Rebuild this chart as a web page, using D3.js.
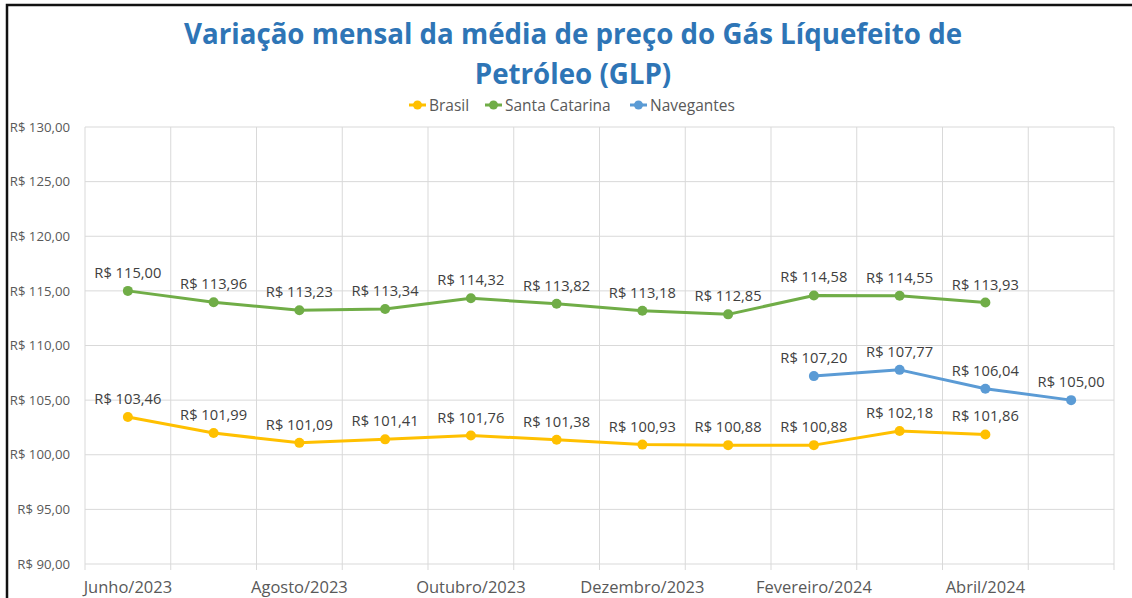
<!DOCTYPE html>
<html><head><meta charset="utf-8">
<script src="https://cdn.jsdelivr.net/npm/d3@7"></script>
<style>
html,body{margin:0;padding:0;background:#fff;overflow:hidden;}
svg{display:block;font-family:"Open Sans",sans-serif;}
</style></head>
<body>
<svg id="chart" width="1132" height="598"></svg>
<script>
const categories = ["Junho/2023","Julho/2023","Agosto/2023","Setembro/2023","Outubro/2023","Novembro/2023","Dezembro/2023","Janeiro/2024","Fevereiro/2024","Março/2024","Abril/2024","Maio/2024"];
const brasil = [103.46,101.99,101.09,101.41,101.76,101.38,100.93,100.88,100.88,102.18,101.86,null];
const santaCatarina = [115.00,113.96,113.23,113.34,114.32,113.82,113.18,112.85,114.58,114.55,113.93,null];
const navegantes = [null,null,null,null,null,null,null,null,107.20,107.77,106.04,105.00];
const seriesNames = ["Brasil","Santa Catarina","Navegantes"];
const seriesColors = ["#FFC000","#70AD47","#5B9BD5"];
const yTicks = [90,95,100,105,110,115,120,125,130];
const titleLines = ["Variação mensal da média de preço do Gás Líquefeito de","Petróleo (GLP)"];

const seriesData = [brasil, santaCatarina, navegantes];
const svg = d3.select("#chart");
const pLeft = 85, pRight = 1114, pTop = 127, pBottom = 564;

const x = d3.scaleBand().domain(categories).range([pLeft, pRight]).padding(0);
const y = d3.scaleLinear().domain([90,130]).range([pBottom, pTop]);
const fmt = v => "R$ " + v.toFixed(2).replace(".", ",");

// border (top and left only visible)
svg.append("path").attr("d","M7,600 L7,5 L1132,5")
  .attr("fill","none").attr("stroke","#111").attr("stroke-width",2.5);

// title
svg.selectAll("text.title").data(titleLines).enter().append("text")
  .attr("class","title").attr("x",573).attr("y",(d,i)=>44+i*40)
  .attr("text-anchor","middle").attr("font-size",27.7).attr("font-weight","bold")
  .attr("fill","#2E75B6").text(d=>d);

// horizontal grid
svg.append("g").selectAll("line").data(yTicks).enter().append("line")
  .attr("x1",pLeft).attr("x2",pRight).attr("y1",d=>y(d)).attr("y2",d=>y(d))
  .attr("stroke","#D9D9D9").attr("stroke-width",1);

// vertical grid (category boundaries) with tick extension
const bounds = categories.map(c=>x(c)).concat([pRight]);
svg.append("g").selectAll("line").data(bounds).enter().append("line")
  .attr("x1",d=>d).attr("x2",d=>d).attr("y1",pTop).attr("y2",pBottom+6)
  .attr("stroke","#D9D9D9").attr("stroke-width",1);

// y axis labels
const yAxis = d3.axisLeft(y).tickValues(yTicks).tickFormat(fmt).tickSize(0).tickPadding(0);
const gy = svg.append("g").attr("transform",`translate(70,0)`).call(yAxis);
gy.select(".domain").remove();
gy.selectAll("text").attr("font-size",13.2).attr("fill","#595959").attr("font-family","Open Sans");

// x axis labels
const xAxis = d3.axisBottom(x).tickValues(categories.filter((c,i)=>i%2===0)).tickSize(0).tickPadding(0);
const gx = svg.append("g").attr("transform",`translate(0,580)`).call(xAxis);
gx.select(".domain").remove();
gx.selectAll("text").attr("font-size",16.5).attr("fill","#595959").attr("font-family","Open Sans").attr("dy","0.8em");

// lines
const cx = c => x(c) + x.bandwidth()/2;
seriesData.forEach((vals,si)=>{
  const pts = categories.map((c,i)=>({c, v: vals[i]}));
  const line = d3.line().defined(d=>d.v!=null).x(d=>cx(d.c)).y(d=>y(d.v));
  svg.append("path").datum(pts).attr("d",line).attr("fill","none")
    .attr("stroke",seriesColors[si]).attr("stroke-width",3).attr("stroke-linejoin","round");
  const defined = pts.filter(d=>d.v!=null);
  svg.append("g").selectAll("circle").data(defined).enter().append("circle")
    .attr("cx",d=>cx(d.c)).attr("cy",d=>y(d.v)).attr("r",5).attr("fill",seriesColors[si]);
  svg.append("g").selectAll("text").data(defined).enter().append("text")
    .attr("x",d=>cx(d.c)).attr("y",d=>y(d.v)-13).attr("text-anchor","middle")
    .attr("font-size",14.7).attr("fill","#404040").text(d=>fmt(d.v));
});

// legend
const legendItems = [
  {lx:409, tx:429},
  {lx:485, tx:505},
  {lx:630, tx:650}
];
const lg = svg.append("g");
seriesNames.forEach((n,i)=>{
  const it = legendItems[i];
  lg.append("line").attr("x1",it.lx).attr("x2",it.lx+17).attr("y1",105).attr("y2",105)
    .attr("stroke",seriesColors[i]).attr("stroke-width",3);
  lg.append("circle").attr("cx",it.lx+8.5).attr("cy",105).attr("r",4.5).attr("fill",seriesColors[i]);
  lg.append("text").attr("x",it.tx).attr("y",110.5).attr("font-size",15.5).attr("fill","#595959").text(n);
});
</script>
</body></html>
